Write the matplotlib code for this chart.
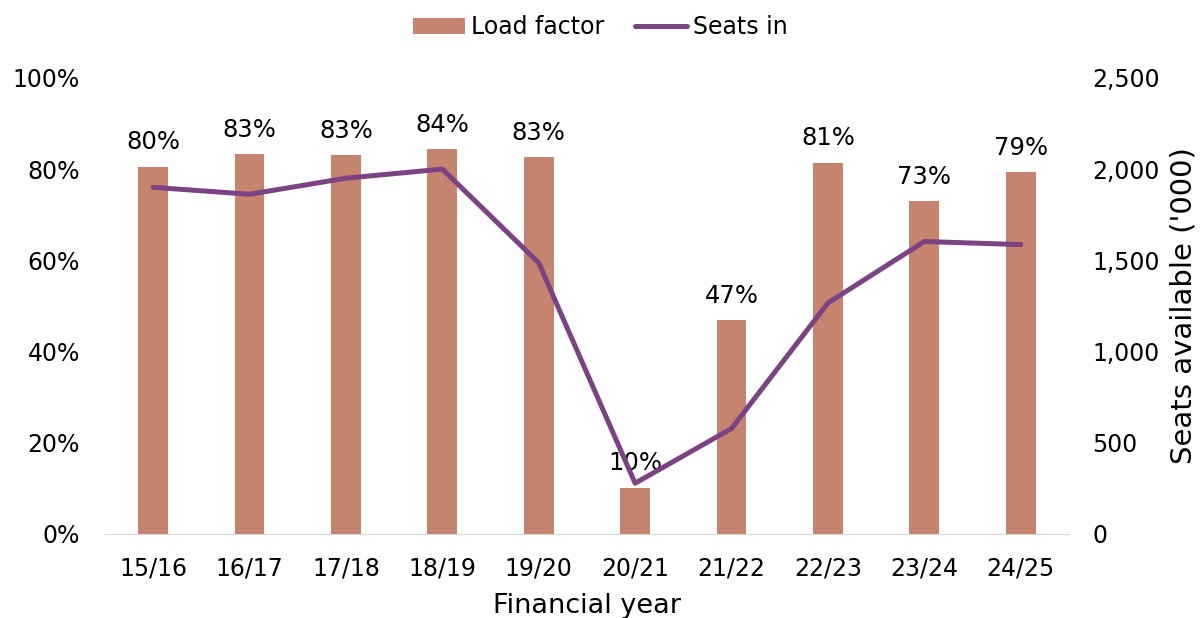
import numpy as np
import matplotlib.pyplot as plt
from matplotlib.ticker import FuncFormatter

years = ['15/16', '16/17', '17/18', '18/19', '19/20', '20/21', '21/22', '22/23', '23/24', '24/25']
load_factor = [80.5, 83.2, 83.0, 84.3, 82.6, 10.1, 46.9, 81.4, 73.0, 79.3]
load_labels = ['80%', '83%', '83%', '84%', '83%', '10%', '47%', '81%', '73%', '79%']
seats = [1900, 1862, 1950, 2000, 1486, 278, 578, 1266, 1603, 1586]

bar_color = '#C6846E'
line_color = '#7B4384'

plt.rcParams['font.family'] = ['DejaVu Sans']

fig = plt.figure(figsize=(12.01, 6.18), dpi=100)
ax = fig.add_axes([0.0874, 0.136, 0.8026, 0.738])
ax2 = ax.twinx()

x = np.arange(len(years))
bars = ax.bar(x, load_factor, width=0.31, color=bar_color, label='Load factor', zorder=2)
line, = ax2.plot(x, seats, color=line_color, linewidth=3.6, solid_capstyle='round',
                 solid_joinstyle='round', label='Seats in', zorder=3)

# 数据标签
for xi, v, lab in zip(x, load_factor, load_labels):
    ax.annotate(lab, (xi, v), xytext=(0, 9), textcoords='offset points',
                ha='center', va='bottom', fontsize=17.5, zorder=1)

ax.set_ylim(0, 100)
ax.set_yticks(np.arange(0, 101, 20))
ax.yaxis.set_major_formatter(FuncFormatter(lambda v, p: f'{v:.0f}%'))
ax2.set_ylim(0, 2500)
ax2.set_yticks(np.arange(0, 2501, 500))
ax2.yaxis.set_major_formatter(FuncFormatter(lambda v, p: f'{v:,.0f}'))
ax.set_xlim(-0.5, len(years) - 0.5)
ax.set_xticks(x)
ax.set_xticklabels(years)

ax.set_zorder(ax2.get_zorder() - 1)
ax2.patch.set_visible(False)

for a in (ax, ax2):
    for s in ('top', 'left', 'right'):
        a.spines[s].set_visible(False)
    a.spines['bottom'].set_color('#D9D9D9')
    a.tick_params(length=0, labelsize=17)
ax2.spines['bottom'].set_visible(False)
ax.tick_params(axis='y', pad=18)
ax.tick_params(axis='x', pad=16)
ax2.tick_params(axis='y', pad=17)

ax.set_xlabel('Financial year', fontsize=19.5, labelpad=9)
ax2.set_ylabel("Seats available ('000)", fontsize=21, labelpad=7)

fig.legend(handles=[bars, line], labels=['Load factor', 'Seats in'], loc='upper center',
           bbox_to_anchor=(0.5, 1.01), ncol=2, frameon=False, fontsize=17,
           handlelength=2.2, columnspacing=1.3, handletextpad=0.25)

fig.savefig('out.png', dpi=100)
